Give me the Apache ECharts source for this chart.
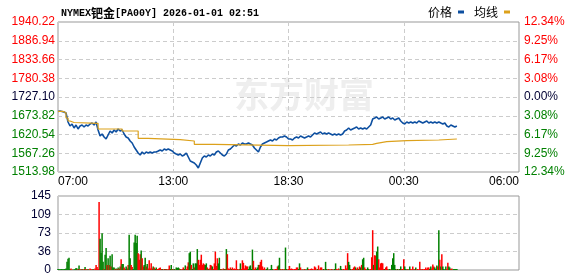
<!DOCTYPE html>
<html><head><meta charset="utf-8">
<script src="https://cdn.jsdelivr.net/npm/echarts@6/dist/echarts.min.js"></script>
<style>html,body{margin:0;padding:0;background:#fff}#c{width:578px;height:276px}</style>
</head><body><div id="c"></div>
<script>
// ---- data ----
const timeLabels = ['07:00', '13:00', '18:30', '00:30', '06:00'];
// price axis tick labels (bottom -> top) and percent-change labels
const priceTicks = ['1513.98', '1567.26', '1620.54', '1673.82', '1727.10', '1780.38', '1833.66', '1886.94', '1940.22'];
const pctTicks = ['12.34%', '9.25%', '6.17%', '3.08%', '0.00%', '3.08%', '6.17%', '9.25%', '12.34%'];
const volTicks = ['0', '36', '73', '109', '145'];
const sessionMinutes = 1380;          // 07:00 -> 06:00
const priceStepMin = 6;               // one price sample every 6 minutes
const volStepMin = 3;                 // one volume bar every 3 minutes
const price = [
1686.0,1687.3,1686.0,1684.5,1681.6,1656.1,1644.7,1650.4,1639.0,1647.5,
1636.2,1644.7,1647.5,1641.9,1647.5,1644.7,1650.4,1653.2,1647.5,1656.1,
1633.3,1616.3,1622.0,1613.4,1607.8,1619.1,1630.5,1624.8,1633.3,1627.6,
1636.2,1630.5,1633.3,1622.0,1613.4,1610.6,1602.1,1596.4,1585.0,1576.5,
1568.0,1562.3,1570.8,1565.1,1570.8,1568.0,1570.8,1568.0,1570.8,1570.8,
1573.6,1576.5,1573.6,1579.3,1576.5,1579.3,1576.5,1573.6,1568.0,1565.1,
1562.3,1565.1,1559.4,1562.3,1568.0,1556.6,1545.2,1542.4,1539.6,1533.9,
1525.3,1539.6,1553.8,1559.4,1556.6,1562.3,1559.4,1565.1,1562.3,1570.8,
1573.6,1568.0,1562.3,1559.4,1565.1,1576.5,1579.3,1585.0,1590.7,1587.9,
1593.5,1590.7,1596.4,1593.5,1593.5,1596.4,1593.5,1590.7,1582.2,1576.5,
1570.8,1585.0,1593.5,1596.4,1599.2,1602.1,1604.9,1602.1,1607.8,1604.9,
1610.6,1613.4,1613.4,1616.3,1613.4,1607.8,1607.8,1604.9,1610.6,1613.4,
1610.6,1616.3,1613.4,1610.6,1613.4,1616.3,1613.4,1619.1,1624.8,1622.0,
1624.8,1627.6,1622.0,1624.8,1622.0,1624.8,1622.0,1619.1,1622.0,1619.1,
1622.0,1619.1,1622.0,1630.5,1633.3,1639.0,1633.3,1636.2,1639.0,1641.9,
1636.2,1639.0,1636.2,1639.0,1636.2,1641.9,1647.5,1664.6,1667.4,1670.3,
1664.6,1667.4,1670.3,1664.6,1667.4,1670.3,1664.6,1667.4,1661.7,1664.6,
1667.4,1658.9,1653.2,1650.4,1656.1,1653.2,1656.1,1653.2,1656.1,1653.2,
1658.9,1656.1,1653.2,1656.1,1658.9,1653.2,1656.1,1653.2,1656.1,1653.2,
1656.1,1653.2,1650.4,1653.2,1644.7,1641.9,1647.5,1644.7,1641.9,1644.7
];
const avgTimes = [0,12,18,24,30,36,48,120,192,240,270,366,408,468,690,870,942,954,984,1044,1140,1194];
const avgValues = [1686.0,1685.3,1681.6,1667.4,1658.9,1654.6,1652.4,1636.2,1630.5,1609.7,1605.8,1602.1,1592.7,1588.7,1590.7,1592.7,1595.5,1600.1,1602.9,1604.9,1607.8,1607.8];
const volume = [
2,2,1,2,2,1,2,2,3,16,
22,24,2,3,1,1,1,2,4,3,
2,9,2,1,2,1,2,6,2,1,
2,1,3,2,1,2,1,3,10,6,
2,133,61,34,72,16,2,30,43,10,
23,10,28,7,31,5,5,2,3,2,
5,3,7,21,12,12,5,2,7,3,
10,69,23,10,6,2,54,69,53,67,
33,20,31,38,23,7,10,24,7,12,
3,19,3,13,3,7,5,2,5,2,
2,4,5,2,2,1,2,2,2,1,
2,9,2,10,2,1,2,1,5,4,
5,3,2,1,2,5,2,9,2,7,
15,33,36,10,2,13,5,13,13,41,
20,10,20,30,10,13,11,10,13,5,
2,3,10,9,7,2,13,36,8,23,
13,24,2,2,1,3,2,2,41,31,
3,2,5,2,5,2,3,2,19,2,
1,2,13,2,19,14,3,9,7,7,
2,7,9,2,40,18,2,5,2,5,
10,10,16,20,7,2,5,1,2,5,
1,1,2,10,2,1,1,2,2,7,
9,24,2,1,2,1,2,44,2,1,
2,8,2,3,2,1,2,2,5,5,
2,13,5,1,1,1,2,1,1,5,
2,1,2,3,2,1,7,5,1,2,
9,1,5,5,1,2,1,16,2,1,
2,1,1,2,1,1,2,13,2,1,
3,1,8,2,1,2,1,9,3,33,
16,10,2,1,2,5,7,5,2,5,
2,7,5,10,21,24,5,2,1,5,
2,1,2,25,78,10,29,28,36,46,
21,5,13,14,13,2,2,5,7,2,
1,2,1,10,23,33,10,2,1,2,
1,2,7,2,2,21,7,2,1,2,
1,7,2,1,7,1,2,5,1,2,
1,16,2,1,2,1,2,5,2,5,
5,2,7,3,11,7,5,2,9,7,
78,20,7,31,7,2,1,7,2,14,
7,5,2,3,1,2,2,2,2
];
// u = price up in that interval (red), d = down (green)
const volDir = [
'ddddd','ddddd','ddduu','ddddd','uduud','uuduu','duuuu','duuuu','uuddd','duddu',
'dudud','ddudu','dudud','duudd','udduu','ddddd','uuudu','uddud','uuuuu','duddu',
'uuuud','uudud','uuddu','ddudd','ddudu','udduu','uddud','duddd','uuuuu','uuddu',
'duuud','uuuuu','dddud','ududu','uuudu','uuuuu','duduu','uuuuu','ddddd','uuudd',
'duuuu','uuudd','udddd','uuuuu','ddudu','duddu','uuuuu','uuuuu','dduud','uuddd',
'uuuuu','uuuud','uuuuu','duddu','uduud','udduu','udddu','uuuuu','ddduu','uuduu',
'dudud','duudd','duuuu','duudd','uuuuu','uduuu','ddudd','dddud','udduu','udddu',
'dduuu','duduu','uuudu','uuuuu','udduu','udddu','dudud','ddduu','dduud','dddd'
].join('');

// ---- chart ----
const RED = '#ff0000', GREEN = '#008000', DARK = '#000033';
const FONT = '"Liberation Sans", Arial, sans-serif';
const CJK = '"Noto Sans CJK SC", sans-serif';
const midIdx = priceTicks.indexOf('1727.10');
const tickColor = (i) => i > midIdx ? RED : (i < midIdx ? GREEN : DARK);

const chart = echarts.init(document.getElementById('c'), null, {renderer: 'canvas'});
const dashed = {show: true, lineStyle: {color: '#cccccc', type: [4, 3], width: 1}};

chart.setOption({
  animation: false,
  backgroundColor: '#fff',
  title: {
    text: '{a|NYMEX}{b|钯金}{a|[PA00Y] 2026-01-01 02:51}',
    left: 56, top: 2,
    textStyle: {
      rich: {
        a: {fontFamily: '"Liberation Mono", "DejaVu Sans Mono", monospace', fontSize: 10, color: '#000'},
        b: {fontFamily: CJK, fontSize: 12, color: '#000'}
      }
    }
  },
  legend: {
    right: 63, top: 1, align: 'right', itemWidth: 6, itemHeight: 3, itemGap: 10,
    textStyle: {fontFamily: CJK, fontSize: 12, color: '#000', padding: [0, 1, 0, 0]},
    data: [{name: '价格', icon: 'rect'}, {name: '均线', icon: 'rect'}]
  },
  graphic: [{
    type: 'text', left: 234, top: 77, z: -10, silent: true,
    style: {text: '东方财富', fontFamily: CJK, fontSize: 35, fontWeight: 'bold', fill: '#eeeeee'}
  }],
  grid: [
    {left: 58, top: 22, width: 461, height: 150, show: true, borderColor: '#999', borderWidth: 1, backgroundColor: 'transparent'},
    {left: 58, top: 196, width: 461, height: 74, show: true, borderColor: '#999', borderWidth: 1, backgroundColor: 'transparent'}
  ],
  xAxis: [
    {gridIndex: 0, type: 'category', data: timeLabels, boundaryGap: false,
     axisLine: {show: false}, axisTick: {show: false}, splitLine: dashed,
     axisLabel: {interval: 0, margin: 4, fontFamily: FONT, fontSize: 12, color: '#000',
                 alignMinLabel: 'left', alignMaxLabel: 'right'}},
    {gridIndex: 0, type: 'value', min: 0, max: sessionMinutes, show: false},
    {gridIndex: 1, type: 'category', data: timeLabels, boundaryGap: false,
     axisLine: {show: false}, axisTick: {show: false}, axisLabel: {show: false}, splitLine: dashed},
    {gridIndex: 1, type: 'value', min: 0, max: sessionMinutes, show: false}
  ],
  yAxis: [
    {gridIndex: 0, type: 'value', min: 0, max: priceTicks.length - 1, interval: 1, position: 'left',
     axisLine: {show: false}, axisTick: {show: false}, splitLine: dashed,
     axisLabel: {margin: 3, fontFamily: FONT, fontSize: 12,
                 formatter: (v) => priceTicks[v], color: (v) => tickColor(v)}},
    {gridIndex: 0, type: 'value', min: 0, max: pctTicks.length - 1, interval: 1, position: 'right',
     axisLine: {show: false}, axisTick: {show: false}, splitLine: {show: false},
     axisLabel: {margin: 5, fontFamily: FONT, fontSize: 12,
                 formatter: (v) => pctTicks[v], color: (v) => tickColor(v)}},
    {gridIndex: 0, type: 'value', show: false,
     min: Number(priceTicks[0]), max: Number(priceTicks[priceTicks.length - 1])},
    {gridIndex: 1, type: 'value', min: 0, max: Number(volTicks[volTicks.length - 1]),
     interval: Number(volTicks[volTicks.length - 1]) / (volTicks.length - 1),
     axisLine: {show: false}, axisTick: {show: false}, splitLine: dashed,
     axisLabel: {margin: 7, fontFamily: FONT, fontSize: 12, color: DARK,
                 formatter: (v, i) => volTicks[i]}}
  ],
  series: [
    {name: '价格', type: 'line', xAxisIndex: 1, yAxisIndex: 2, showSymbol: false, symbol: 'none',
     color: '#0d4fa0', lineStyle: {color: '#0d4fa0', width: 1.6},
     data: price.map((p, i) => [i * priceStepMin, p])},
    {name: '均线', type: 'line', xAxisIndex: 1, yAxisIndex: 2, showSymbol: false, symbol: 'none', step: 'end',
     color: '#dca11b', lineStyle: {color: '#dca11b', width: 1.2},
     data: avgTimes.map((t, i) => [t, avgValues[i]])},
    {name: '成交量', type: 'bar', xAxisIndex: 3, yAxisIndex: 3, barWidth: 1.5,
     data: volume.map((v, i) => ({value: [i * volStepMin, v],
       itemStyle: {color: volDir[i] === 'u' ? RED : GREEN}}))}
  ]
});
</script>
</body></html>
